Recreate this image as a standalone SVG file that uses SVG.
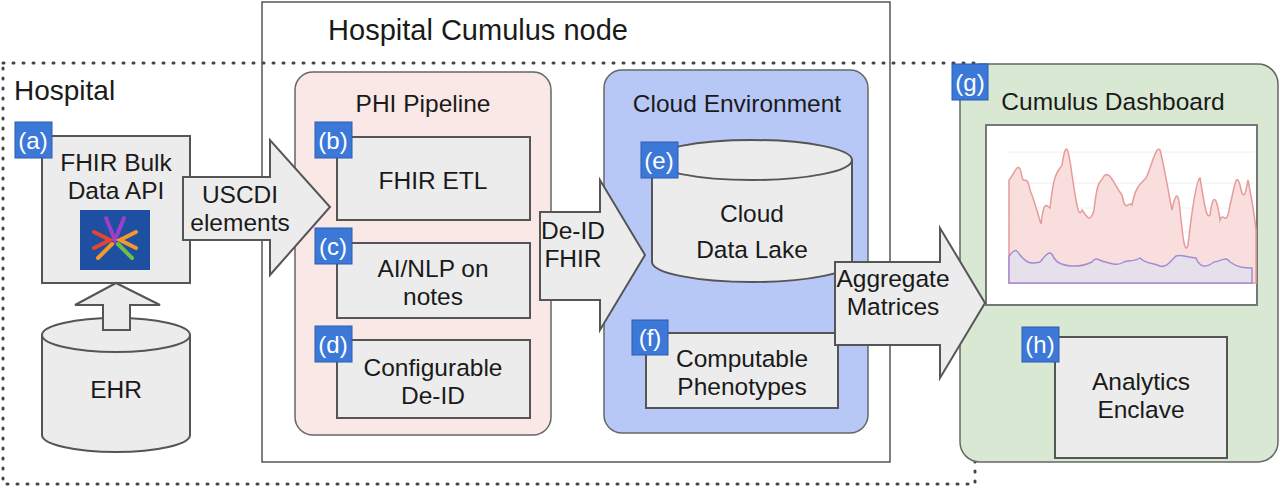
<svg xmlns="http://www.w3.org/2000/svg" width="1280" height="488" viewBox="0 0 1280 488">
<style>
text{font-family:"Liberation Sans",Arial,sans-serif;fill:#1a1a1a;font-size:24.5px;text-anchor:middle}
.box{fill:#ececec;stroke:#555;stroke-width:2}
.tag{fill:#3c78d8;stroke:#2a5db0;stroke-width:1}
.tagt{fill:#fff;font-size:24px}
.arr{fill:#ececec;stroke:#555;stroke-width:2}
</style>
<rect width="1280" height="488" fill="#fff"/>
<rect x="3" y="63" width="972" height="421" fill="none" stroke="#444" stroke-width="3" stroke-dasharray="1 9" stroke-linecap="round"/>
<text x="14" y="100" style="text-anchor:start;font-size:28px">Hospital</text>
<rect x="262" y="2" width="628" height="460" fill="none" stroke="#555" stroke-width="1.5"/>
<text x="478" y="40" style="font-size:29px">Hospital Cumulus node</text>
<rect x="295" y="72" width="256" height="363" rx="18" fill="#f9e8e6" stroke="#666" stroke-width="1.5"/>
<text x="423" y="112">PHI Pipeline</text>
<rect x="604" y="70" width="264" height="363" rx="18" fill="#b7c8f7" stroke="#666" stroke-width="1.5"/>
<text x="737" y="112">Cloud Environment</text>
<rect x="960" y="64" width="318" height="398" rx="20" fill="#d9e8d2" stroke="#666" stroke-width="1.5"/>
<text x="1113" y="110">Cumulus Dashboard</text>
<g id="ehr">
<path class="box" d="M42,335 L42,435 A74,17 0 0 0 190,435 L190,335"/>
<ellipse cx="116" cy="335" rx="74" ry="17" class="box"/>
<text x="116" y="398">EHR</text>
</g>
<g id="a">
<rect class="box" x="42" y="136" width="148" height="147"/>
<text x="116" y="171">FHIR Bulk</text><text x="116" y="199">Data API</text>
<rect x="80" y="210" width="70" height="60" fill="#1e4fa0"/>
<g stroke-width="4" fill="none" stroke-linecap="round">
<path d="M106,218 L115,240 L124,218" stroke="#9b3fc8"/>
<path d="M94,232 L110,240 L94,248" stroke="#e8452f"/>
<path d="M136,232 L120,240 L136,248" stroke="#f29b2a"/>
<path d="M98,258 L112,244" stroke="#f29b2a"/>
<path d="M132,258 L118,244" stroke="#6cc04a"/>
</g>
<rect class="tag" x="15" y="122" width="37" height="36"/><text class="tagt" x="33" y="149">(a)</text>
</g>
<g id="b">
<rect class="box" x="337" y="137" width="193" height="83"/>
<text x="433" y="189">FHIR ETL</text>
<rect class="tag" x="315" y="122" width="37" height="36"/><text class="tagt" x="333" y="149">(b)</text>
</g>
<g id="c">
<rect class="box" x="337" y="243" width="193" height="75"/>
<text x="433" y="277">AI/NLP on</text><text x="433" y="305">notes</text>
<rect class="tag" x="315" y="228" width="37" height="36"/><text class="tagt" x="333" y="255">(c)</text>
</g>
<g id="d">
<rect class="box" x="337" y="340" width="193" height="78"/>
<text x="433" y="376">Configurable</text><text x="433" y="404">De-ID</text>
<rect class="tag" x="315" y="326" width="37" height="36"/><text class="tagt" x="333" y="353">(d)</text>
</g>
<g id="e">
<path class="box" d="M652,160 L652,262 A100,20 0 0 0 852,262 L852,160"/>
<ellipse cx="752" cy="160" rx="100" ry="20" class="box"/>
<text x="752" y="222">Cloud</text><text x="752" y="258">Data Lake</text>
<rect class="tag" x="641" y="142" width="37" height="36"/><text class="tagt" x="659" y="169">(e)</text>
</g>
<g id="f">
<rect class="box" x="646" y="333" width="192" height="75"/>
<text x="742" y="367">Computable</text><text x="742" y="395">Phenotypes</text>
<rect class="tag" x="632" y="320" width="36" height="35"/><text class="tagt" x="650" y="346">(f)</text>
</g>
<g id="g">
<rect class="tag" x="952" y="64" width="36" height="36"/><text class="tagt" x="970" y="91">(g)</text>
<rect x="986" y="125" width="271" height="180" fill="#fff" stroke="#777" stroke-width="2"/>
<g stroke="#eee" stroke-width="1"><line x1="1008" y1="152" x2="1254" y2="152"/><line x1="1008" y1="183" x2="1254" y2="183"/><line x1="1008" y1="208" x2="1254" y2="208"/><line x1="1008" y1="232" x2="1254" y2="232"/></g>
<line x1="1008" y1="256" x2="1254" y2="256" stroke="#e0c8c8"/>
<line x1="1008" y1="283" x2="1254" y2="283" stroke="#ccc"/>
<path d="M1009,180 C1014,175 1018,160 1021,172 C1024,190 1026,170 1030,190 C1036,205 1038,215 1041,224 C1044,200 1046,205 1050,208 C1054,170 1058,172 1062,165 C1066,140 1068,145 1072,175 C1076,200 1078,220 1082,210 C1086,215 1090,225 1094,210 C1098,175 1100,185 1104,176 C1110,170 1114,185 1122,195 C1126,215 1128,200 1132,205 C1136,185 1140,185 1146,178 C1152,165 1156,145 1160,150 C1164,165 1168,190 1172,210 C1175,195 1178,188 1180,210 C1183,240 1185,255 1188,245 C1192,210 1196,180 1200,178 C1204,200 1206,220 1210,215 C1214,185 1218,205 1220,220 C1224,210 1226,230 1230,205 C1234,190 1236,170 1240,185 C1244,205 1246,190 1248,180 C1252,200 1254,210 1256,230 L1256,283 L1009,283 Z" fill="#f9dede" stroke="#e89a9a" stroke-width="1.5"/>
<path d="M1009,256 C1014,250 1016,248 1020,255 C1026,262 1030,265 1040,262 C1046,255 1050,248 1054,258 C1060,268 1080,268 1092,262 C1096,255 1100,262 1106,262 C1112,264 1118,266 1124,262 C1128,260 1134,262 1140,258 C1146,264 1150,262 1160,266 C1166,268 1170,262 1176,256 C1182,254 1188,258 1196,258 C1200,268 1206,268 1214,262 C1220,262 1226,255 1230,262 C1238,268 1246,268 1252,268 L1252,283 L1009,283 Z" fill="#e6e0ea" stroke="#a58bd4" stroke-width="1.5"/>
</g>
<g id="h">
<rect class="box" x="1055" y="337" width="172" height="121"/>
<text x="1141" y="390">Analytics</text><text x="1141" y="418">Enclave</text>
<rect class="tag" x="1022" y="327" width="37" height="35"/><text class="tagt" x="1040" y="353">(h)</text>
</g>
<g id="connectors">
<path class="arr" d="M103,330 L130,330 L130,305 L160,305 L116,283 L75,305 L103,305 Z"/>
<path class="arr" d="M183,177 L270,177 L270,140 L330,207 L270,275 L270,240 L183,240 Z"/>
<text x="240" y="203">USCDI</text><text x="240" y="231">elements</text>
<path class="arr" d="M540,212 L600,212 L600,180 L645,255 L600,330 L600,300 L540,300 Z"/>
<text x="573" y="239">De-ID</text><text x="573" y="267">FHIR</text>
<path class="arr" d="M835,262 L940,262 L940,228 L985,303 L940,378 L940,345 L835,345 Z"/>
<text x="893" y="287">Aggregate</text><text x="893" y="315">Matrices</text>
</g>
</svg>
